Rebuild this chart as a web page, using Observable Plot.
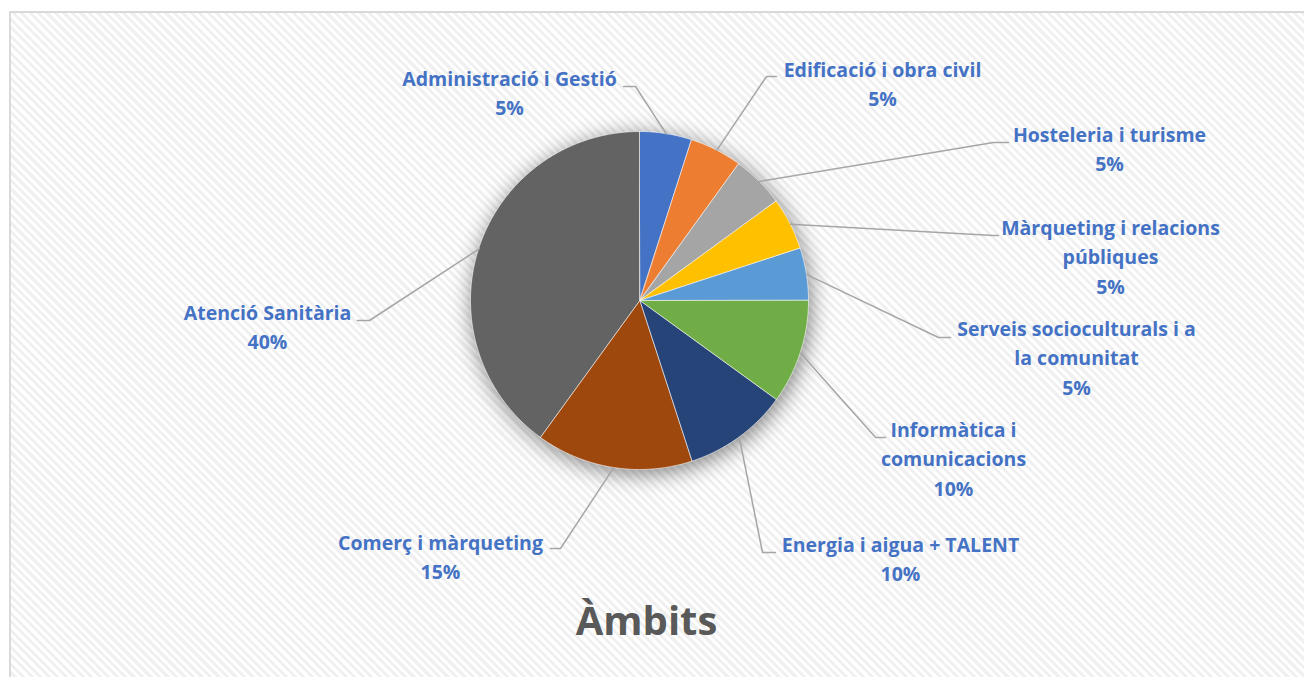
<!DOCTYPE html>
<html><head><meta charset="utf-8">
<script src="https://cdn.jsdelivr.net/npm/d3@7"></script>
<script src="https://cdn.jsdelivr.net/npm/@observablehq/plot@0.6"></script>
<style>
body{margin:0;background:#fff;}
#wrap{position:relative;width:1304px;height:677px;overflow:hidden;}
#frame{position:absolute;left:9px;top:11px;width:1320px;height:700px;border:2px solid #d9d9d9;
  background:repeating-linear-gradient(45deg,#ffffff 0px,#ffffff 3px,#f0f0f0 3px,#f0f0f0 6px);}
#chart{position:absolute;left:0;top:0;}
</style></head><body>
<div id="wrap"><div id="frame"></div><div id="chart"></div></div>
<script>
// ---- data ----
const categories = [
  "Administració i Gestió",
  "Edificació i obra civil",
  "Hosteleria i turisme",
  "Màrqueting i relacions públiques",
  "Serveis socioculturals i a la comunitat",
  "Informàtica i comunicacions",
  "Energia i aigua + TALENT",
  "Comerç i màrqueting",
  "Atenció Sanitària"
];
const values = [5, 5, 5, 5, 5, 10, 10, 15, 40];
const colors = ["#4472C4", "#ED7D31", "#A5A5A5", "#FFC000", "#5B9BD5", "#70AD47", "#264478", "#9E480E", "#636363"];
const title = "Àmbits";

// ---- layout (label wrapping and placement, pixels) ----
const labelWraps = [
  "Administració i Gestió",
  "Edificació i obra civil",
  "Hosteleria i turisme",
  "Màrqueting i relacions\npúbliques",
  "Serveis socioculturals i a\nla comunitat",
  "Informàtica i\ncomunicacions",
  "Energia i aigua + TALENT",
  "Comerç i màrqueting",
  "Atenció Sanitària"
];
const labelElbow = [[635,86],[766,76],[993,142],[993,235],[938,337],[875,437],[762,552],[560,548],[369,320]];
const labelTickX = [623,776,1008,998,950,885,775,550,357];
const labelCenter = [[509,79],[882,70],[1109,135],[1110,228],[1076,329],[953,430],[900,545],[440,543],[267,313]];
const CX = 639.5, CY = 300.5, R = 169;
const LINE = 29.5, FS = 19.5;
const FONT = "Open Sans";

const total = d3.sum(values);
const arcs = d3.pie().sort(null).value(d => d)(values);
const pt = (a, r) => ({x: CX + r * Math.sin(a), y: CY - r * Math.cos(a)});

const slicePts = [];
arcs.forEach((a, i) => {
  const cat = categories[i];
  const n = Math.max(2, Math.ceil((a.endAngle - a.startAngle) / (Math.PI / 360)));
  for (let k = 0; k <= n; k++) {
    const ang = a.startAngle + (a.endAngle - a.startAngle) * k / n;
    slicePts.push({cat, ...pt(ang, R), cx: CX, cy: CY});
  }
});

const leaderPts = [];
arcs.forEach((a, i) => {
  const cat = categories[i];
  const mid = (a.startAngle + a.endAngle) / 2;
  leaderPts.push({cat, ...pt(mid, R)});
  leaderPts.push({cat, x: labelElbow[i][0], y: labelElbow[i][1]});
  leaderPts.push({cat, x: labelTickX[i], y: labelElbow[i][1]});
});

const labels = categories.map((c, i) => {
  const text = labelWraps[i] + "\n" + Math.round(values[i] / total * 100) + "%";
  const n = text.split("\n").length;
  return {cat: c, text, x: labelCenter[i][0], y: labelCenter[i][1] - 3 + (n - 1) * LINE / 2};
});

const plot = Plot.plot({
  width: 1304, height: 677, margin: 0,
  x: {domain: [0, 1304], range: [0, 1304], axis: null},
  y: {domain: [0, 677], range: [0, 677], axis: null},
  color: {domain: categories, range: colors},
  style: {background: "transparent", overflow: "visible"},
  marks: [
    Plot.area(slicePts, {x1: "x", y1: "y", x2: "cx", y2: "cy", z: "cat", fill: "#000", curve: "linear"}),
    Plot.area(slicePts, {x1: "x", y1: "y", x2: "cx", y2: "cy", z: "cat", fill: "cat", stroke: "white", strokeWidth: 0.6, curve: "linear"}),
    Plot.line(leaderPts, {x: "x", y: "y", z: "cat", stroke: "#a6a6a6", strokeWidth: 1.5, curve: "linear"}),
    Plot.text(labels, {x: "x", y: "y", text: "text", fill: "#4472C4", fontSize: FS, fontWeight: "bold",
      fontFamily: FONT, lineHeight: LINE / FS, textAnchor: "middle", lineAnchor: "middle"}),
    Plot.text([title], {x: () => 646, y: () => 622, text: d => d, fill: "#595959", fontSize: 40, fontWeight: "bold",
      fontFamily: FONT, textAnchor: "middle", lineAnchor: "middle"})
  ]
});

const ns = "http://www.w3.org/2000/svg";
const defs = document.createElementNS(ns, "defs");
const filter = document.createElementNS(ns, "filter");
filter.setAttribute("id", "pieShadow");
filter.setAttribute("x", "-30%"); filter.setAttribute("y", "-30%");
filter.setAttribute("width", "160%"); filter.setAttribute("height", "160%");
const blur = document.createElementNS(ns, "feGaussianBlur");
blur.setAttribute("in", "SourceGraphic");
blur.setAttribute("stdDeviation", "11");
filter.appendChild(blur);
defs.appendChild(filter);
plot.insertBefore(defs, plot.firstChild);
const areas = plot.querySelectorAll('g[aria-label="area"]');
if (areas.length) {
  const sg = areas[0];
  sg.setAttribute("filter", "url(#pieShadow)");
  sg.setAttribute("opacity", "0.5");
  sg.setAttribute("transform", "translate(2,4)");
}
document.getElementById("chart").appendChild(plot);
</script>
</body></html>
